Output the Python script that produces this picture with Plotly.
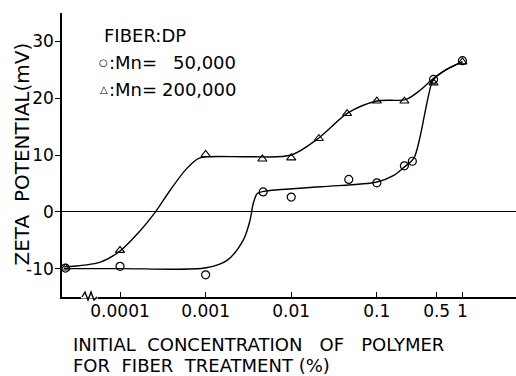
import plotly.graph_objects as go

# ---------------- data ----------------
ZERO_POS = 2.3e-5  # plotted position of the untreated (0 %) fibre, left of the axis break

# Mn = 50,000 (open circles)
circ_x = [ZERO_POS, 1e-4, 1e-3, 0.0047, 0.01, 0.047, 0.1, 0.21, 0.26, 0.46, 1.0]
circ_y = [-9.9, -9.6, -11.1, 3.5, 2.6, 5.7, 5.1, 8.1, 8.9, 23.3, 26.6]

# Mn = 200,000 (open triangles)
tri_x = [ZERO_POS, 1e-4, 1e-3, 0.0046, 0.01, 0.021, 0.045, 0.1, 0.21, 0.46, 1.0]
tri_y = [-9.9, -6.8, 10.1, 9.3, 9.5, 12.9, 17.3, 19.5, 19.5, 22.7, 26.4]

# hand-drawn fitted curves
curve_circ_x = [2.2e-5, 1e-4, 1.02e-3, 1.78e-3, 2.75e-3, 3.3e-3, 3.6e-3, 4.0e-3, 4.8e-3,
                0.022, 0.1, 0.158, 0.214, 0.27, 0.32, 0.37, 0.43, 0.46, 0.64, 1.0]
curve_circ_y = [-10.0, -10.0, -9.85, -8.55, -5.0, -1.5, 1.45, 3.2, 3.6,
                4.4, 5.25, 6.4, 8.0, 9.4, 13.2, 17.9, 22.3, 23.3, 25.0, 26.4]

curve_tri_x = [2.2e-5, 5.9e-5, 1e-4, 1.6e-4, 2.6e-4, 3.85e-4, 6.0e-4, 8.3e-4, 1.12e-3,
               3.2e-3, 0.01, 0.021, 0.046, 0.1, 0.22, 0.32, 0.46, 0.64, 1.0]
curve_tri_y = [-9.7, -8.85, -6.9, -3.85, 0.0, 3.8, 7.6, 9.4, 9.7,
               9.7, 10.0, 13.0, 17.4, 19.5, 19.8, 21.4, 23.5, 25.0, 26.4]

x_tickvals = [1e-4, 1e-3, 1e-2, 1e-1, 0.5, 1.0]
x_ticktext = ["0.0001", "0.001", "0.01", "0.1", "0.5", "1"]
y_tickvals = [-10, 0, 10, 20, 30]
y_ticktext = ["-10", "0", "10", "20", "30"]

# ---------------- layout helpers ----------------
W, H = 516, 376
L, R, T, B = 62, 0, 13, 79
PW, PH = W - L - R, H - T - B
FONT = "DejaVu Sans, Liberation Sans, sans-serif"


def fx(px):
    return (px - L) / PW


def fy(py):
    return (H - B - py) / PH


fig = go.Figure()

line_style = dict(color="black", width=1.4, shape="spline", smoothing=0.9)
fig.add_trace(go.Scatter(x=curve_circ_x, y=curve_circ_y, mode="lines", line=line_style,
                         hoverinfo="skip", showlegend=False))
fig.add_trace(go.Scatter(x=curve_tri_x, y=curve_tri_y, mode="lines", line=line_style,
                         hoverinfo="skip", showlegend=False))
fig.add_trace(go.Scatter(x=circ_x, y=circ_y, mode="markers", name="Mn= 50,000",
                         marker=dict(symbol="circle-open", size=8, color="black",
                                     line=dict(width=1.2)),
                         cliponaxis=False, showlegend=False))
fig.add_trace(go.Scatter(x=tri_x, y=tri_y, mode="markers", name="Mn= 200,000",
                         marker=dict(symbol="triangle-up-open", size=8, color="black",
                                     line=dict(width=1.1)),
                         cliponaxis=False, showlegend=False))

axis_common = dict(showline=True, linecolor="black", linewidth=1.5, showgrid=False,
                   mirror=False, ticklen=5, tickwidth=1.2, tickcolor="black",
                   tickfont=dict(family=FONT, size=17, color="black"))

fig.update_xaxes(type="log", range=[-4.678, 0.626], ticks="inside",
                 tickmode="array", tickvals=x_tickvals, ticktext=x_ticktext,
                 zeroline=False, ticklabelstandoff=-2, **axis_common)
fig.update_yaxes(range=[-15, 35], ticks="outside", tickmode="array",
                 tickvals=y_tickvals, ticktext=y_ticktext,
                 zeroline=True, zerolinecolor="black", zerolinewidth=1.4,
                 ticklabelstandoff=-2, **axis_common)

annotations = []


def text(px, py, s, size=18, xanchor="left", angle=0):
    annotations.append(dict(x=fx(px), y=fy(py), xref="paper", yref="paper", text=s,
                            showarrow=False, xanchor=xanchor, yanchor="middle",
                            textangle=angle, borderpad=0,
                            font=dict(family=FONT, size=size, color="black")))


# axis titles
text(21.5, 154, "ZETA  POTENTIAL(mV)", size=20, xanchor="center", angle=-90)
text(72, 344.5, "INITIAL  CONCENTRATION   OF   POLYMER", size=18)
text(72, 365.4, "FOR  FIBER  TREATMENT (%)", size=18)

# legend block
text(103, 35.3, "FIBER:DP", size=18)
text(103.8, 62.5, "○", size=10, xanchor="center")
text(107.5, 62.5, ":Mn=", size=18)
text(237, 62.5, "50,000", size=18, xanchor="right")
text(103.8, 89.5, "△", size=10, xanchor="center")
text(107.5, 89.7, ":Mn=", size=18)
text(237, 89.7, "200,000", size=18, xanchor="right")

# axis break (zigzag) on the x axis
zig = [(82, 297), (85, 292), (88, 300), (91, 292), (94, 300), (97, 297)]
path = "M " + " L ".join(f"{fx(a):.5f},{fy(b):.5f}" for a, b in zig)
shapes = [
    dict(type="line", xref="paper", yref="paper", x0=fx(81), x1=fx(98), y0=fy(297), y1=fy(297),
         line=dict(color="white", width=3)),
    dict(type="path", xref="paper", yref="paper", path=path, line=dict(color="black", width=1.4)),
]

fig.update_layout(width=W, height=H, margin=dict(l=L, r=R, t=T, b=B, pad=0),
                  paper_bgcolor="white", plot_bgcolor="white",
                  annotations=annotations, shapes=shapes, showlegend=False,
                  font=dict(family=FONT, color="black"))

fig.write_html("out.html")
